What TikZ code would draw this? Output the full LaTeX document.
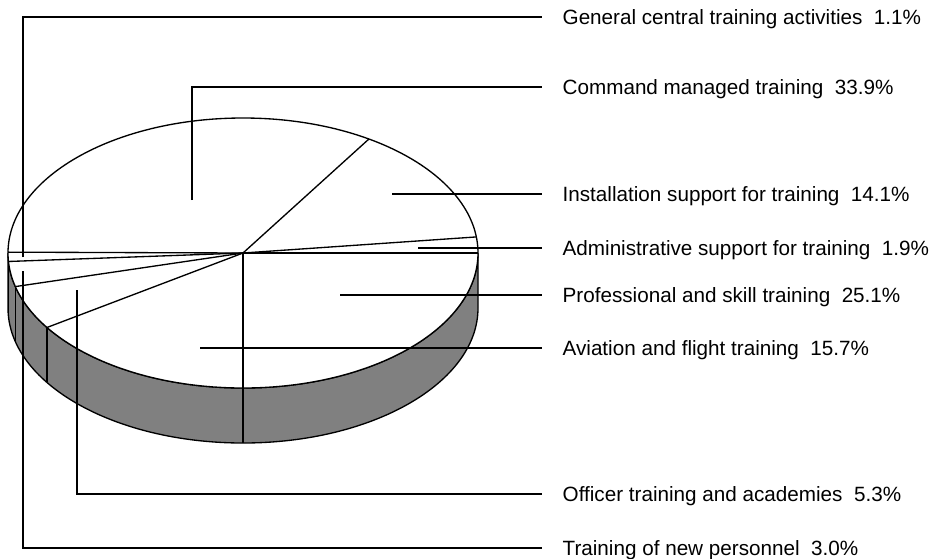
\documentclass[tikz,border=0pt]{standalone}
\usepackage{fontspec}
\setmainfont{Liberation Sans}
\usepackage{xcolor}

\tikzset{
  sideband/.style={fill={rgb, 255:red, 128; green, 128; blue, 128}},
  leader/.style={draw, line width=1},
  share/.style={anchor=west, inner xsep=15pt, inner ysep=0pt, text height=11.5pt, text depth=0pt, font=\fontsize{15.5}{18}\selectfont}
}

\begin{document}
\begin{tikzpicture}[x=0.75pt,y=0.75pt,yscale=-1,xscale=1,line width=1]
            \useasboundingbox (0,0) rectangle (931,558);
            
            %Shape: Side of pie [id:side]
            \draw [sideband] (8,253) -- (8,308) arc (180:0:235 and 135) -- (478,253) arc (0:180:235 and 135) -- cycle ;
            %Shape: Top of pie [id:top]
            \draw [fill=white] (243,253) ellipse (235 and 135) ;
            %Straight Lines: slice edges
            \foreach \a in {0,6.84,57.6,179.64,183.6,194.4,213.48,270}
              \draw (243,253) -- ({243+235*cos(\a)},{253-135*sin(\a)}) ;
            %Straight Lines: slice edges on the side
            \foreach \a in {183.6,194.4,213.48,270}
              \draw ({243+235*cos(\a)},{253-135*sin(\a)}) -- ++(0,55) ;
            
            % Leader starts
            \coordinate (gen) at (23,257);
            \coordinate (cmd) at (192,200);
            \coordinate (inst) at (392,194);
            \coordinate (adm) at (418,248);
            \coordinate (prof) at (340,295);
            \coordinate (avi) at (200,348);
            \coordinate (off) at (77,290);
            \coordinate (newp) at (23,271);
            
            % Text Node
            \node [share] (genl) at (542,17) {General central training activities~~1.1\%};
            % Text Node
            \node [share] (cmdl) at (542,87) {Command managed training~~33.9\%};
            % Text Node
            \node [share] (instl) at (542,194) {Installation support for training~~14.1\%};
            % Text Node
            \node [share] (adml) at (542,248) {Administrative support for training~~1.9\%};
            % Text Node
            \node [share] (profl) at (542,295) {Professional and skill training~~25.1\%};
            % Text Node
            \node [share] (avil) at (542,348) {Aviation and flight training~~15.7\%};
            % Text Node
            \node [share] (offl) at (542,494) {Officer training and academies~~5.3\%};
            % Text Node
            \node [share] (newpl) at (542,548) {Training of new personnel~~3.0\%};
            
            %Leader Lines
            \draw [leader] (gen) |- (genl.west) ;
            \draw [leader] (cmd) |- (cmdl.west) ;
            \draw [leader] (inst) -- (instl.west) ;
            \draw [leader] (adm) -- (adml.west) ;
            \draw [leader] (prof) -- (profl.west) ;
            \draw [leader] (avi) -- (avil.west) ;
            \draw [leader] (off) |- (offl.west) ;
            \draw [leader] (newp) |- (newpl.west) ;
            
\end{tikzpicture}
\end{document}
